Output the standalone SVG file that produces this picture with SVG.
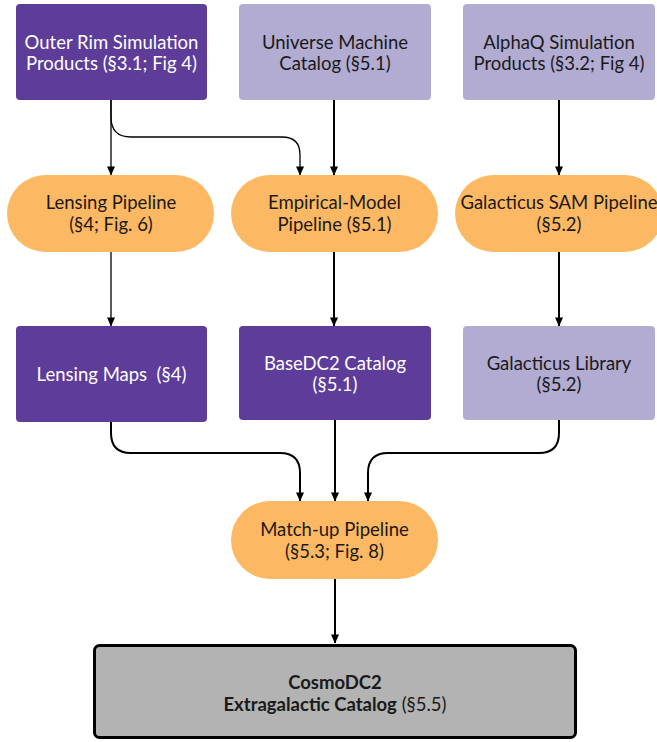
<svg xmlns="http://www.w3.org/2000/svg" width="657" height="742" viewBox="0 0 657 742">
<defs>
<style>
.dark{fill:#5e3c99}
.light{fill:#b2abd2}
.pill{fill:#fdb863}
.t{font-family:Lato,"Noto Sans",sans-serif;font-size:18.5px;text-anchor:middle}
.w{fill:#ffffff}
.k{fill:#1a1a1a}
.c{fill:none;stroke:#000;stroke-linejoin:round}
.thin{stroke-width:1.3}
.thick{stroke-width:2}
</style>
<marker id="ah" viewBox="0 0 10 10" refX="9.5" refY="5" markerWidth="9" markerHeight="9" markerUnits="userSpaceOnUse" orient="auto">
<path d="M0,0.5 L10,5 L0,9.5 z" fill="#000"/>
</marker>
</defs>
<rect width="657" height="742" fill="#ffffff"/>
<g id="connectors">
<path class="c thin" d="M111,100 V175" marker-end="url(#ah)"/>
<path class="c thin" d="M111,100 V117 Q111,137 131,137 H282 Q300,137 300,155 V175" marker-end="url(#ah)"/>
<path class="c thick" d="M334,100 V175" marker-end="url(#ah)"/>
<path class="c thick" d="M559,100 V175" marker-end="url(#ah)"/>
<path class="c thin" d="M111,252 V326" marker-end="url(#ah)"/>
<path class="c thick" d="M334,252 V326" marker-end="url(#ah)"/>
<path class="c thick" d="M559,252 V326" marker-end="url(#ah)"/>
<path class="c thick" d="M111,422 V433 Q111,453 131,453 H280 Q300,453 300,473 V501" marker-end="url(#ah)"/>
<path class="c thick" d="M335,420 V501" marker-end="url(#ah)"/>
<path class="c thick" d="M559,420 V433 Q559,453 539,453 H388 Q368,453 368,473 V501" marker-end="url(#ah)"/>
<path class="c thick" d="M335,579 V643" marker-end="url(#ah)"/>
</g>
<g id="outer-rim">
<rect class="dark" x="16" y="4" width="191" height="96" rx="4"/>
<text class="t w" x="111.5" y="49">Outer Rim Simulation</text>
<text class="t w" x="111.5" y="70">Products (§3.1; Fig 4)</text>
</g>
<g id="universe-machine">
<rect class="light" x="239" y="4" width="192" height="96" rx="4"/>
<text class="t k" x="335" y="49">Universe Machine</text>
<text class="t k" x="335" y="70">Catalog (§5.1)</text>
</g>
<g id="alphaq">
<rect class="light" x="463" y="4" width="192" height="96" rx="4"/>
<text class="t k" x="559" y="49">AlphaQ Simulation</text>
<text class="t k" x="559" y="70">Products (§3.2; Fig 4)</text>
</g>
<g id="lensing-pipeline">
<rect class="pill" x="7" y="175" width="207" height="77" rx="38.5"/>
<text class="t k" x="111" y="209">Lensing Pipeline</text>
<text class="t k" x="111" y="231">(§4; Fig. 6)</text>
</g>
<g id="empirical-pipeline">
<rect class="pill" x="231" y="175" width="207" height="77" rx="38.5"/>
<text class="t k" x="334.5" y="209">Empirical-Model</text>
<text class="t k" x="334.5" y="231">Pipeline (§5.1)</text>
</g>
<g id="galacticus-pipeline">
<rect class="pill" x="455" y="175" width="208" height="77" rx="38.5"/>
<text class="t k" x="559" y="209">Galacticus SAM Pipeline</text>
<text class="t k" x="559" y="231">(§5.2)</text>
</g>
<g id="lensing-maps">
<rect class="dark" x="16" y="326" width="191" height="96" rx="4"/>
<text class="t w" x="111.5" y="381">Lensing Maps&#160; (§4)</text>
</g>
<g id="basedc2">
<rect class="dark" x="239" y="326" width="192" height="94" rx="4"/>
<text class="t w" x="335" y="370">BaseDC2 Catalog</text>
<text class="t w" x="335" y="391">(§5.1)</text>
</g>
<g id="galacticus-library">
<rect class="light" x="463" y="326" width="192" height="94" rx="4"/>
<text class="t k" x="559" y="370">Galacticus Library</text>
<text class="t k" x="559" y="391">(§5.2)</text>
</g>
<g id="matchup-pipeline">
<rect class="pill" x="231" y="501" width="207" height="78" rx="39"/>
<text class="t k" x="334.5" y="536">Match-up Pipeline</text>
<text class="t k" x="334.5" y="558">(§5.3; Fig. 8)</text>
</g>
<g id="cosmodc2">
<rect x="94.5" y="645.5" width="481" height="92" rx="5" fill="#b3b3b3" stroke="#000" stroke-width="3"/>
<text class="t k" x="335" y="689" font-weight="bold">CosmoDC2</text>
<text class="t k" x="335" y="711"><tspan font-weight="bold">Extragalactic Catalog</tspan> (§5.5)</text>
</g>
</svg>
